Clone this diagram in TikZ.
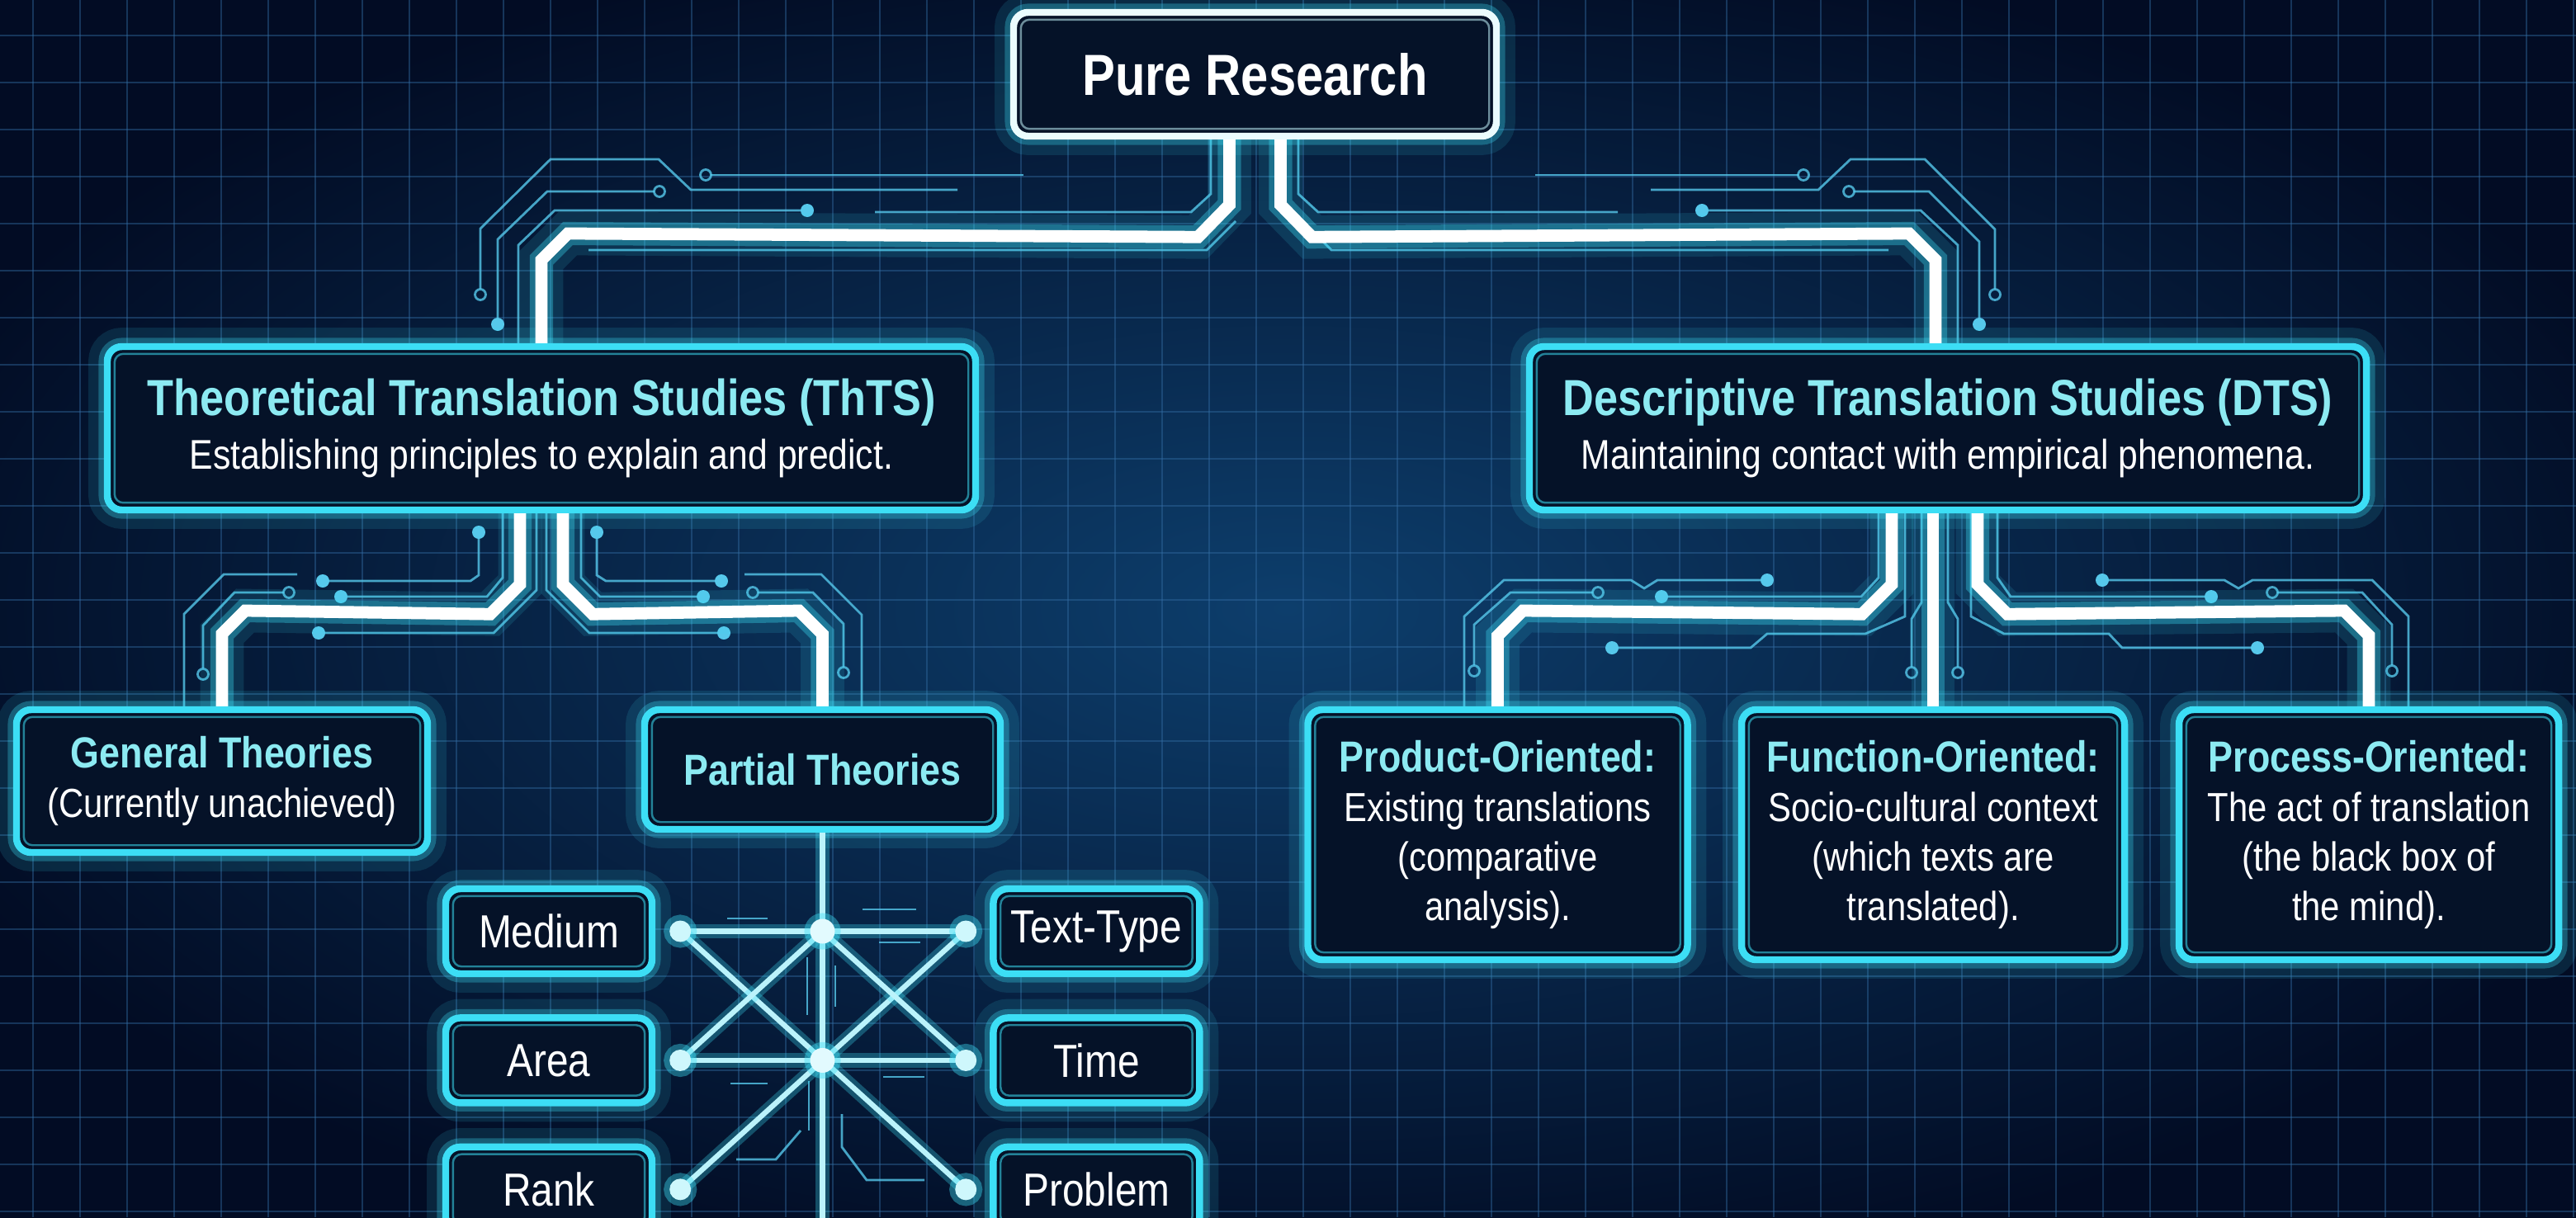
\documentclass[tikz,border=0pt]{standalone}
\usepackage{fontspec}
\setmainfont{Liberation Sans}[FakeStretch=0.85]
\usepackage{tikz}
\usetikzlibrary{positioning}

\definecolor{bgdark}{RGB}{2,12,36}
\definecolor{bglight}{RGB}{13,62,108}
\definecolor{gridblue}{RGB}{52,110,165}
\definecolor{boxfill}{RGB}{5,18,40}
\definecolor{neon}{RGB}{60,222,245}
\definecolor{softcyan}{RGB}{140,234,242}
\definecolor{tracecyan}{RGB}{86,200,235}

\newcommand{\bighdr}[1]{{\color{softcyan}\bfseries\fontsize{17.5}{21}\selectfont #1}}
\newcommand{\hdr}[1]{{\color{softcyan}\bfseries\fontsize{15}{18}\selectfont #1}}

\begin{document}
\begin{tikzpicture}[
  neon box/.style={draw=neon, line width=2.4pt, fill=boxfill, rounded corners=5pt,
    text=white, align=center, inner sep=0pt,
    preaction={draw=neon, line width=13pt, draw opacity=0.12},
    preaction={draw=neon, line width=6pt, draw opacity=0.3}},
  top box/.style={neon box, draw=white!90!neon, font=\fontsize{20}{24}\selectfont\bfseries},
  study box/.style={neon box, minimum height=1.98cm, font=\fontsize{14.3}{17.6}\selectfont},
  branch box/.style={neon box, font=\fontsize{14}{17}\selectfont},
  small box/.style={neon box, minimum width=2.5cm, minimum height=1.03cm, font=\fontsize{16}{19}\selectfont},
  inner frame/.style={draw=neon, line width=0.7pt, draw opacity=0.55, rounded corners=3pt},
  wire/.style={draw=white, line width=4.2pt, line join=miter,
    preaction={draw=neon, line width=15pt, draw opacity=0.13},
    preaction={draw=neon, line width=8pt, draw opacity=0.35}},
  link/.style={draw=white!65!neon, line width=1.8pt,
    preaction={draw=neon, line width=5pt, draw opacity=0.3}},
  hub/.style={fill=white!75!neon, preaction={draw=neon, line width=4pt, draw opacity=0.4}},
  trace/.style={draw=tracecyan, line width=0.8pt, draw opacity=0.8},
  pad/.style={fill=tracecyan},
  grid line/.style={draw=gridblue, line width=0.7pt, draw opacity=0.42}
]
\useasboundingbox (0,0) rectangle (31.21,-14.75);
\fill[bgdark] (0,0) rectangle (31.21,-14.75);
\shade[inner color=bglight, outer color=bgdark] (-2,1) rectangle (33.2,-15.75);
\foreach \x in {0.40,0.97,...,31.2} \draw[grid line] (\x,0) -- (\x,-14.75);
\foreach \y in {0.43,1.00,...,14.75} \draw[grid line] (0,-\y) -- (31.21,-\y);

% circuit traces
\draw[trace] (5.82,-3.50) -- (5.82,-2.77) -- (6.67,-1.93) -- (7.98,-1.93) -- (8.37,-2.30) -- (11.60,-2.30);
\draw[trace] (5.82,-3.57) circle (0.065);
\draw[trace] (7.93,-2.32) -- (6.63,-2.32) -- (6.03,-2.90) -- (6.03,-3.87);
\draw[trace] (7.99,-2.32) circle (0.065);
\fill[pad] (6.03,-3.93) circle (0.08);
\draw[trace] (9.78,-2.55) -- (6.72,-2.55) -- (6.28,-2.97) -- (6.28,-4.20);
\fill[pad] (9.78,-2.55) circle (0.08);
\draw[trace] (8.61,-2.12) -- (12.40,-2.12);
\draw[trace] (8.55,-2.12) circle (0.065);
\draw[trace] (7.13,-3.03) -- (14.62,-3.03) -- (14.97,-2.68);
\draw[trace] (14.67,-1.65) -- (14.67,-2.35) -- (14.43,-2.57) -- (10.60,-2.57);
\draw[trace] (20.00,-2.30) -- (22.03,-2.30) -- (22.42,-1.93) -- (23.32,-1.93) -- (24.17,-2.78) -- (24.17,-3.50);
\draw[trace] (24.17,-3.57) circle (0.065);
\draw[trace] (22.46,-2.32) -- (23.37,-2.32) -- (23.98,-2.93) -- (23.98,-3.87);
\draw[trace] (22.40,-2.32) circle (0.065);
\fill[pad] (23.98,-3.93) circle (0.08);
\draw[trace] (20.62,-2.55) -- (23.27,-2.55) -- (23.72,-2.97) -- (23.72,-4.20);
\fill[pad] (20.62,-2.55) circle (0.08);
\draw[trace] (18.60,-2.12) -- (21.79,-2.12);
\draw[trace] (21.85,-2.12) circle (0.065);
\draw[trace] (15.78,-2.68) -- (16.13,-3.03) -- (22.88,-3.03);
\draw[trace] (15.73,-1.65) -- (15.73,-2.35) -- (15.97,-2.57) -- (19.60,-2.57);

\draw[trace] (5.80,-6.45) -- (5.80,-6.97) -- (5.70,-7.04) -- (3.91,-7.04);
\fill[pad] (5.80,-6.45) circle (0.08);
\fill[pad] (3.91,-7.04) circle (0.08);
\draw[trace] (4.13,-7.23) -- (5.90,-7.23) -- (6.09,-7.00) -- (6.09,-6.20);
\fill[pad] (4.13,-7.23) circle (0.08);
\draw[trace] (3.44,-7.18) -- (2.84,-7.18) -- (2.46,-7.58) -- (2.46,-8.10);
\draw[trace] (3.50,-7.18) circle (0.065);
\draw[trace] (2.46,-8.17) circle (0.065);
\draw[trace] (3.60,-6.96) -- (2.71,-6.96) -- (2.23,-7.44) -- (2.23,-8.60);
\draw[trace] (3.86,-7.67) -- (5.98,-7.67) -- (6.50,-7.15) -- (6.50,-6.20);
\fill[pad] (3.86,-7.67) circle (0.08);
\draw[trace] (7.23,-6.45) -- (7.23,-6.97) -- (7.34,-7.04) -- (8.74,-7.04);
\fill[pad] (7.23,-6.45) circle (0.08);
\fill[pad] (8.74,-7.04) circle (0.08);
\draw[trace] (8.52,-7.23) -- (7.27,-7.23) -- (7.04,-7.00) -- (7.04,-6.20);
\fill[pad] (8.52,-7.23) circle (0.08);
\draw[trace] (9.18,-7.18) -- (9.85,-7.18) -- (10.22,-7.56) -- (10.22,-8.08);
\draw[trace] (9.12,-7.18) circle (0.065);
\draw[trace] (10.22,-8.15) circle (0.065);
\draw[trace] (9.02,-6.96) -- (9.95,-6.96) -- (10.44,-7.45) -- (10.44,-8.60);
\draw[trace] (8.77,-7.67) -- (7.14,-7.67) -- (6.62,-7.15) -- (6.62,-6.20);
\fill[pad] (8.77,-7.67) circle (0.08);

\draw[trace] (21.41,-7.03) -- (20.08,-7.03) -- (19.92,-7.13) -- (19.76,-7.03) -- (18.22,-7.03) -- (17.74,-7.47) -- (17.74,-8.60);
\fill[pad] (21.41,-7.03) circle (0.08);
\draw[trace] (19.30,-7.18) -- (18.30,-7.18) -- (17.86,-7.57) -- (17.86,-8.06);
\draw[trace] (19.36,-7.18) circle (0.065);
\draw[trace] (17.86,-8.13) circle (0.065);
\draw[trace] (20.13,-7.23) -- (22.55,-7.23) -- (22.76,-7.00) -- (22.76,-6.18);
\fill[pad] (20.13,-7.23) circle (0.08);
\draw[trace] (19.53,-7.85) -- (21.21,-7.85) -- (21.41,-7.68) -- (22.60,-7.68) -- (23.08,-7.47) -- (23.08,-6.18);
\fill[pad] (19.53,-7.85) circle (0.08);
\draw[trace] (23.16,-8.08) -- (23.16,-7.50) -- (23.28,-7.30) -- (23.28,-6.18);
\draw[trace] (23.16,-8.15) circle (0.065);
\draw[trace] (23.72,-8.08) -- (23.72,-7.50) -- (23.60,-7.30) -- (23.60,-6.18);
\draw[trace] (23.72,-8.15) circle (0.065);
\draw[trace] (25.47,-7.03) -- (26.95,-7.03) -- (27.12,-7.13) -- (27.29,-7.03) -- (28.74,-7.03) -- (29.18,-7.47) -- (29.18,-8.60);
\fill[pad] (25.47,-7.03) circle (0.08);
\draw[trace] (27.59,-7.18) -- (28.62,-7.18) -- (28.98,-7.57) -- (28.98,-8.06);
\draw[trace] (27.53,-7.18) circle (0.065);
\draw[trace] (28.98,-8.13) circle (0.065);
\draw[trace] (26.79,-7.23) -- (24.36,-7.23) -- (24.20,-7.00) -- (24.20,-6.18);
\fill[pad] (26.79,-7.23) circle (0.08);
\draw[trace] (27.35,-7.85) -- (25.71,-7.85) -- (25.55,-7.68) -- (24.28,-7.68) -- (23.88,-7.47) -- (23.88,-6.18);
\fill[pad] (27.35,-7.85) circle (0.08);

\node[top box, minimum width=5.85cm, minimum height=1.5cm] (pure) at (15.205,-0.90) {Pure Research};
\node[study box, minimum width=10.52cm] (thts) at (6.56,-5.19)
  {\bighdr{Theoretical Translation Studies (ThTS)}\\[1pt] Establishing principles to explain and predict.};
\node[study box, minimum width=10.14cm] (dts) at (23.60,-5.19)
  {\bighdr{Descriptive Translation Studies (DTS)}\\[1pt] Maintaining contact with empirical phenomena.};
\node[branch box, minimum width=4.98cm, minimum height=1.73cm] (general) at (2.69,-9.465)
  {\hdr{General Theories}\\ (Currently unachieved)};
\node[branch box, minimum width=4.31cm, minimum height=1.45cm] (partial) at (9.965,-9.325) {\hdr{Partial Theories}};
\node[branch box, minimum width=4.6cm, minimum height=3.03cm] (product) at (18.145,-10.115)
  {\hdr{Product-Oriented:}\\ Existing translations\\ (comparative\\ analysis).};
\node[branch box, minimum width=4.64cm, minimum height=3.03cm] (function) at (23.42,-10.115)
  {\hdr{Function-Oriented:}\\ Socio-cultural context\\ (which texts are\\ translated).};
\node[branch box, minimum width=4.6cm, minimum height=3.03cm] (process) at (28.70,-10.115)
  {\hdr{Process-Oriented:}\\ The act of translation\\ (the black box of\\ the mind).};

\node[small box] (medium) at (6.65,-11.285) {Medium};
\node[small box] (area) [below=0.45cm of medium] {Area};
\node[small box] (rank) [below=0.45cm of area] {Rank};
\node[small box] (texttype) [right=4.05cm of medium] {Text-Type};
\node[small box] (time) [below=0.45cm of texttype] {Time};
\node[small box] (problem) [below=0.45cm of time] {Problem};

\draw[inner frame, draw=white!70!neon] ([shift={(0.13,0.13)}]pure.south west) rectangle ([shift={(-0.13,-0.13)}]pure.north east);
\foreach \n in {thts,dts,general,partial,product,function,process,medium,area,rank,texttype,time,problem}
  \draw[inner frame] ([shift={(0.13,0.13)}]\n.south west) rectangle ([shift={(-0.13,-0.13)}]\n.north east);

\draw[wire] ([xshift=-3.1mm]pure.south) -- ++(0,-0.79) -- ++(-0.38,-0.39) -- (6.88,-2.83) -- (6.56,-3.15) -- (thts.north);
\draw[wire] ([xshift=3.1mm]pure.south) -- ++(0,-0.79) -- ++(0.38,-0.39) -- (23.13,-2.83) -- (23.45,-3.15) -- ([xshift=-1.5mm]dts.north);
\draw[wire] ([xshift=-2.6mm]thts.south) -- ++(0,-0.86) -- ++(-0.36,-0.36) -- (2.97,-7.40) -- (2.69,-7.68) -- (general.north);
\draw[wire] ([xshift=2.6mm]thts.south) -- ++(0,-0.86) -- ++(0.36,-0.36) -- (9.68,-7.40) -- (9.965,-7.685) -- (partial.north);
\draw[wire] ([xshift=-6.8mm]dts.south) -- ++(0,-0.86) -- ++(-0.36,-0.36) -- (18.45,-7.40) -- (18.145,-7.705) -- (product.north);
\draw[wire] (function.north |- dts.south) -- (function.north);
\draw[wire] ([xshift=3.6mm]dts.south) -- ++(0,-0.86) -- ++(0.36,-0.36) -- (28.40,-7.40) -- (28.70,-7.70) -- (process.north);

\coordinate[right=0.3cm of medium] (dm);
\coordinate[right=0.3cm of area] (da);
\coordinate[right=0.3cm of rank] (dr);
\coordinate[left=0.29cm of texttype] (dt);
\coordinate[left=0.29cm of time] (dti);
\coordinate[left=0.29cm of problem] (dp);
\coordinate (h1) at (partial.south |- dm);
\coordinate (h2) at (partial.south |- da);
\coordinate (stem) at (partial.south |- 0,-14.9);

\draw[trace] (8.81,-11.13) -- (9.30,-11.13);
\draw[trace] (10.45,-11.02) -- (11.10,-11.02);
\draw[trace] (10.65,-11.42) -- (11.15,-11.42);
\draw[trace] (8.85,-13.13) -- (9.30,-13.13);
\draw[trace] (10.70,-13.05) -- (11.20,-13.05);
\draw[trace] (8.92,-14.05) -- (9.40,-14.05) -- (9.70,-13.70);
\draw[trace] (10.20,-13.50) -- (10.20,-13.90) -- (10.50,-14.30) -- (11.20,-14.30);
\draw[trace] (9.78,-11.60) -- (9.78,-12.30);
\draw[trace] (10.12,-11.70) -- (10.12,-12.20);
\draw[trace] (9.80,-13.10) -- (9.80,-13.70);

\draw[link] (partial.south) -- (stem);
\draw[link] (dm) -- (dt);
\draw[link] (da) -- (dti);
\draw[link] (dm) -- (dp);
\draw[link] (dt) -- (dr);
\draw[link] (h1) -- (da);
\draw[link] (h1) -- (dti);
\foreach \d in {dm,da,dr,dt,dti,dp} \fill[hub] (\d) circle (0.13);
\foreach \d in {h1,h2} \fill[hub, fill=white!85!neon] (\d) circle (0.15);
\end{tikzpicture}
\end{document}
